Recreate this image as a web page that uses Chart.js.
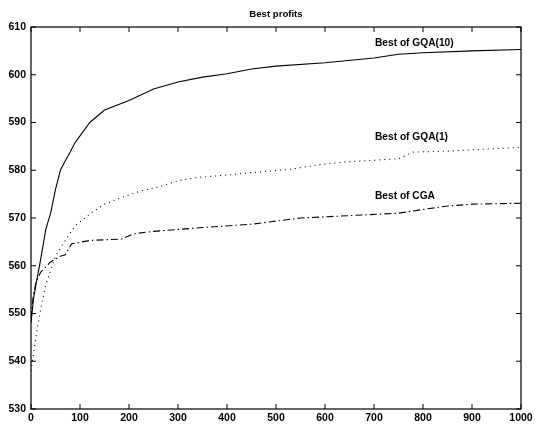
<!DOCTYPE html>
<html>
<head>
<meta charset="utf-8">
<script src="https://cdn.jsdelivr.net/npm/chart.js@4"></script>
<style>
  html, body { margin: 0; padding: 0; background: #fff; }
  #wrap { width: 536px; height: 428px; }
</style>
</head>
<body>
<div id="wrap"><canvas id="myChart" width="536" height="428"></canvas></div>
<script>
// generations (x) and best profit values
const gqa10X = [0, 5, 10, 20, 30, 40, 50, 60, 70, 80, 90, 100, 120, 150, 200, 250, 300, 350, 400, 450, 500, 600, 700, 750, 800, 900, 1000];
const gqa10Y = [548, 553, 556, 561.5, 567.5, 571, 576, 580, 582, 583.8, 585.8, 587.2, 590, 592.6, 594.6, 597, 598.5, 599.5, 600.2, 601.2, 601.8, 602.5, 603.5, 604.3, 604.6, 605, 605.3];

const gqa1X = [0, 10, 20, 30, 50, 65, 90, 125, 150, 185, 225, 260, 300, 340, 400, 450, 530, 590, 650, 750, 780, 850, 1000];
const gqa1Y = [538, 545, 551, 556, 562, 564.5, 568.4, 571.2, 572.9, 574.3, 575.7, 576.5, 577.8, 578.5, 579, 579.5, 580.2, 581.2, 581.8, 582.4, 583.8, 584, 584.8];

const cgaX = [0, 5, 10, 20, 40, 60, 70, 83, 120, 185, 210, 250, 300, 350, 450, 550, 650, 750, 800, 850, 900, 1000];
const cgaY = [549, 554, 556.5, 558.7, 560.8, 562, 562.3, 564.6, 565.3, 565.6, 566.7, 567.2, 567.6, 568, 568.7, 570, 570.5, 571, 571.8, 572.5, 572.9, 573.1];

const xTicks = [0, 100, 200, 300, 400, 500, 600, 700, 800, 900, 1000];
const yTicks = [530, 540, 550, 560, 570, 580, 590, 600, 610];

const titleText = 'Best profits';
// curve labels: [text, x, y] in data units
const curveLabels = [
  ['Best of GQA(10)', 702, 606.7],
  ['Best of GQA(1)', 702, 586.9],
  ['Best of CGA', 702, 574.6]
];

const toPoints = (xs, ys) => xs.map((x, i) => ({ x: x, y: ys[i] }));

const boxPlugin = {
  id: 'box',
  afterDraw(chart) {
    const c = chart.ctx;
    const xs = chart.scales.x, ys = chart.scales.y;
    const a = chart.chartArea;
    c.save();
    c.strokeStyle = '#000';
    c.lineWidth = 1.2;
    c.strokeRect(a.left, a.top, a.right - a.left, a.bottom - a.top);
    c.lineWidth = 1;
    c.beginPath();
    xTicks.forEach(v => {
      const px = xs.getPixelForValue(v);
      c.moveTo(px, a.bottom); c.lineTo(px, a.bottom - 5);
      c.moveTo(px, a.top); c.lineTo(px, a.top + 5);
    });
    yTicks.forEach(v => {
      const py = ys.getPixelForValue(v);
      c.moveTo(a.left, py); c.lineTo(a.left + 5, py);
      c.moveTo(a.right, py); c.lineTo(a.right - 5, py);
    });
    c.stroke();

    c.fillStyle = '#000';
    c.textBaseline = 'middle';
    c.textAlign = 'center';
    c.font = 'bold 9.6px "Liberation Sans", Arial, sans-serif';
    c.fillText(titleText, (a.left + a.right) / 2, 14);
    c.textAlign = 'left';
    c.font = 'bold 10.2px "Liberation Sans", Arial, sans-serif';
    curveLabels.forEach(l => {
      c.fillText(l[0], xs.getPixelForValue(l[1]), ys.getPixelForValue(l[2]));
    });
    c.restore();
  }
};

const lineStyle = {
  borderColor: '#000',
  borderWidth: 1.1,
  pointRadius: 0,
  fill: false,
  tension: 0
};

const tickFont = { family: '"Liberation Sans", Arial, sans-serif', size: 10.5, weight: 'bold' };

const ctx = document.getElementById('myChart');
const myChart = new Chart(ctx, {
  type: 'line',
  data: {
    datasets: [
      Object.assign({ label: 'Best of GQA(10)', data: toPoints(gqa10X, gqa10Y) }, lineStyle),
      Object.assign({ label: 'Best of GQA(1)', data: toPoints(gqa1X, gqa1Y), borderDash: [1, 4] }, lineStyle),
      Object.assign({ label: 'Best of CGA', data: toPoints(cgaX, cgaY), borderDash: [7, 3, 1.5, 3] }, lineStyle)
    ]
  },
  options: {
    responsive: false,
    animation: false,
    layout: { padding: { top: 27, right: 15, left: 0, bottom: 0 } },
    plugins: {
      legend: { display: false },
      title: { display: false },
      tooltip: { enabled: false }
    },
    scales: {
      x: {
        type: 'linear',
        min: 0,
        max: 1000,
        afterBuildTicks: s => { s.ticks = xTicks.map(v => ({ value: v })); },
        grid: { display: false, drawTicks: false },
        border: { display: false },
        ticks: {
          color: '#000',
          padding: 3,
          maxRotation: 0,
          font: tickFont,
          callback: v => String(v)
        },
        afterFit: s => { s.height = 19; }
      },
      y: {
        min: 530,
        max: 610,
        afterBuildTicks: s => { s.ticks = yTicks.map(v => ({ value: v })); },
        grid: { display: false, drawTicks: false },
        border: { display: false },
        ticks: {
          color: '#000',
          padding: 5,
          font: tickFont,
          callback: v => String(v)
        },
        afterFit: s => { s.width = 31; }
      }
    }
  },
  plugins: [boxPlugin]
});
</script>
</body>
</html>
